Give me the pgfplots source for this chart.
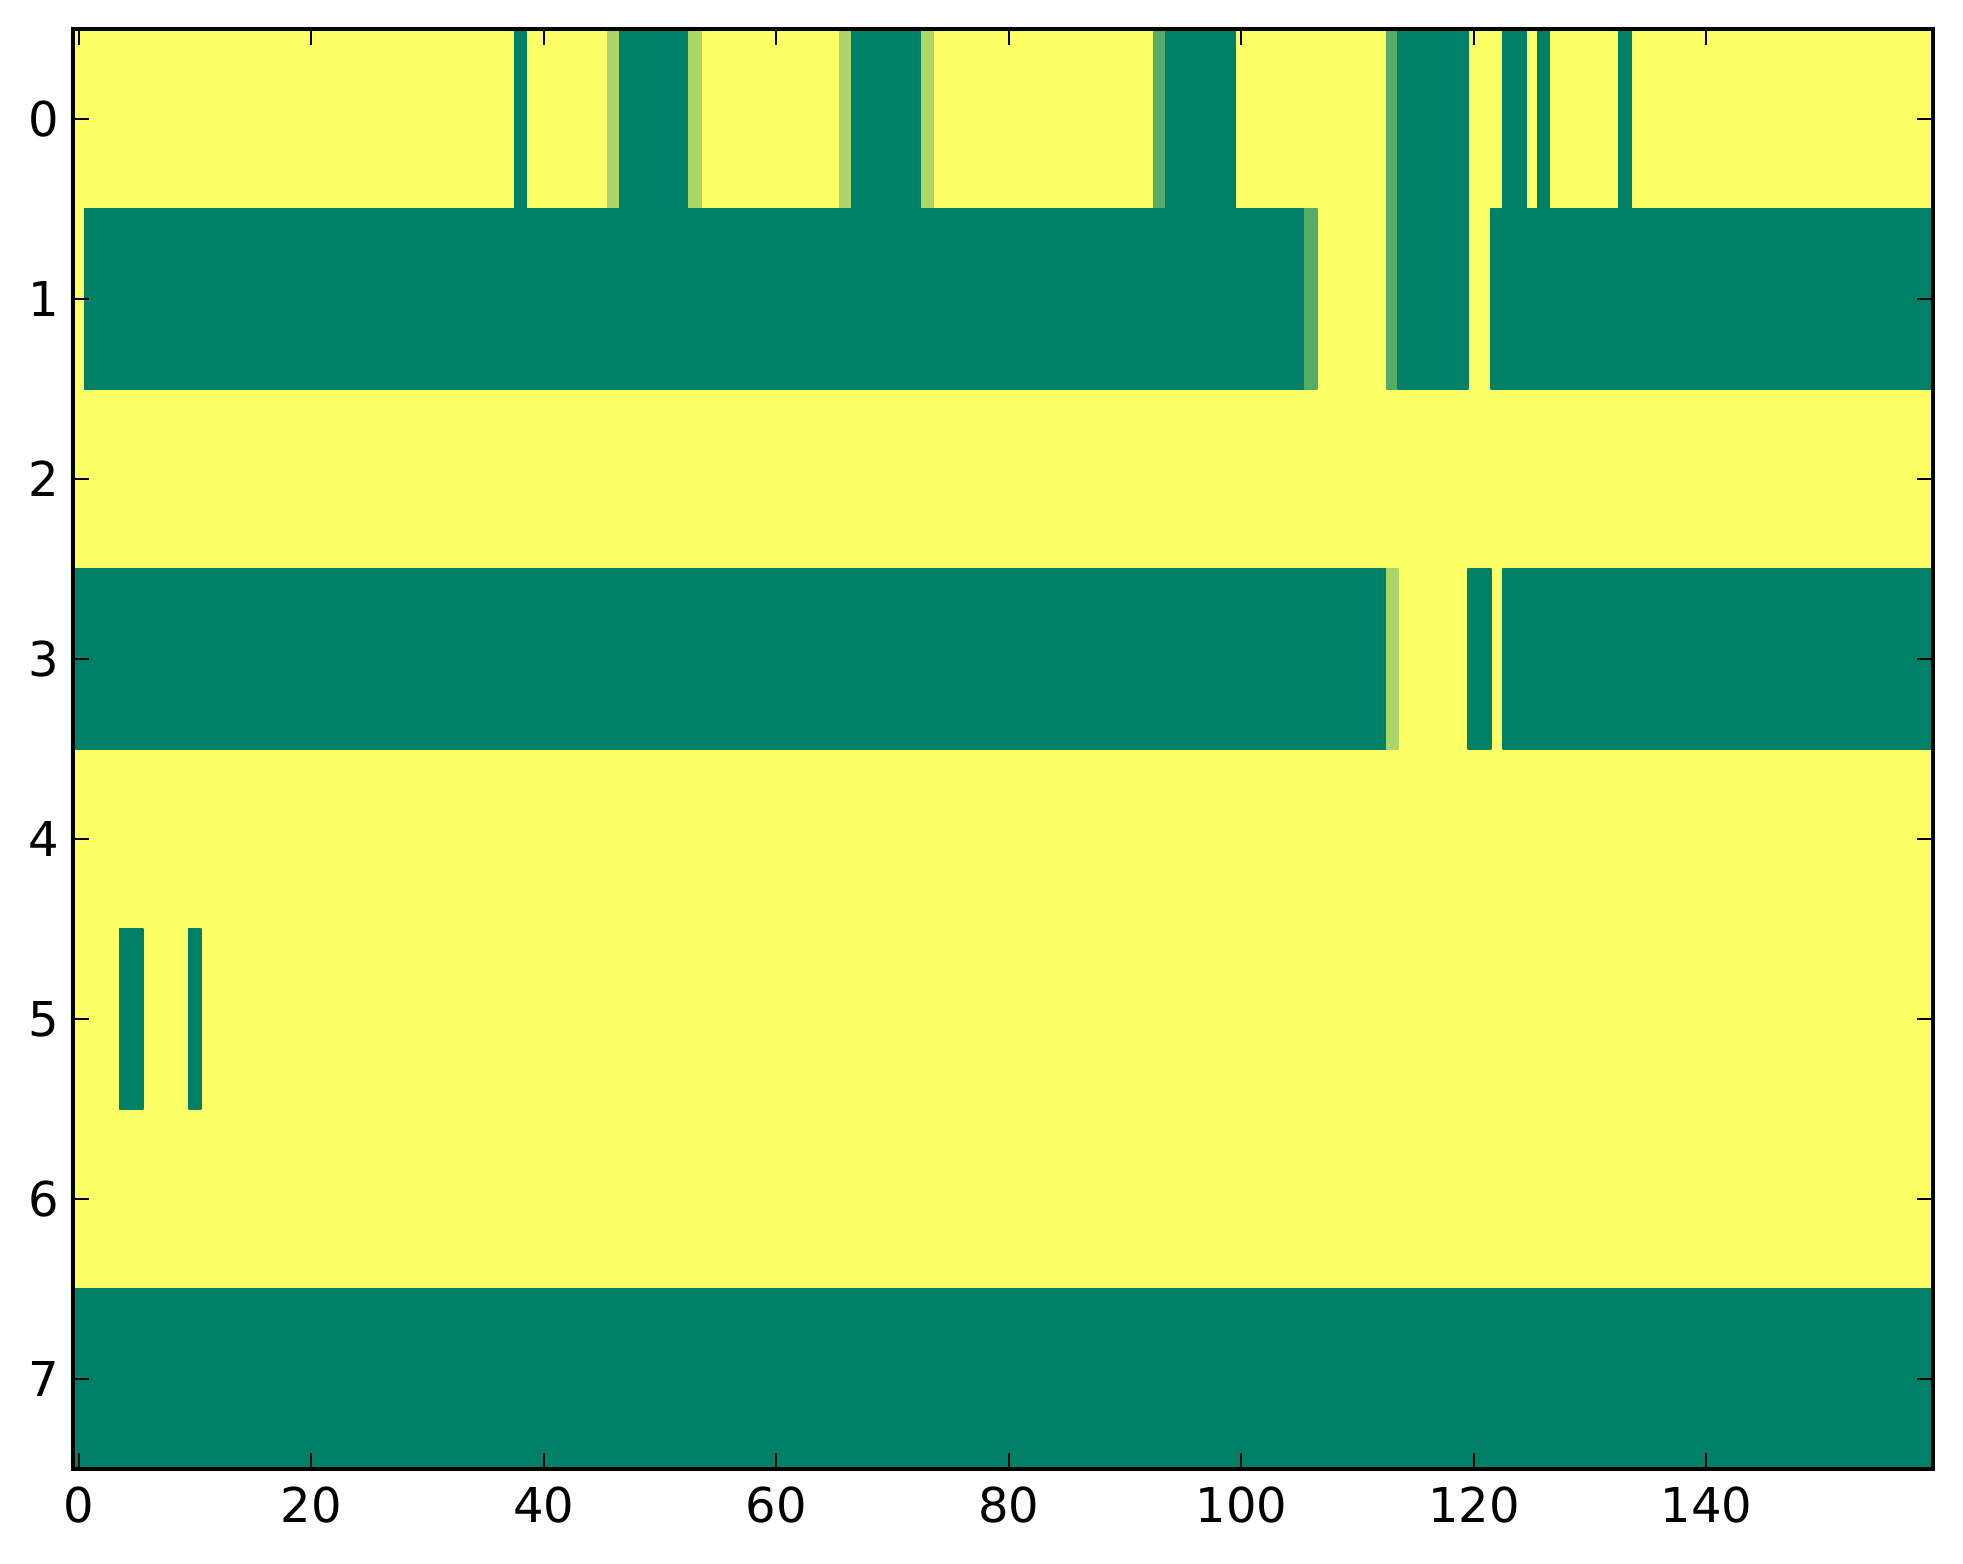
\documentclass[border=0pt]{standalone}
\usepackage{fontspec}
\setmainfont{DejaVu Sans}
\usepackage{pgfplots}
\pgfplotsset{compat=1.18}
\usepgfplotslibrary{patchplots}
\begin{document}
\begin{tikzpicture}
\begin{axis}[
  scale only axis,
  width=465pt, height=360pt,
  xmin=-0.5, xmax=159.5, ymin=-0.5, ymax=7.5,
  y dir=reverse,
  xtick={0,20,...,140}, ytick={0,1,...,7},
  tick align=inside, tick pos=both,
  major tick length=4pt,
  axis line style={line width=1pt},
  every tick/.style={black, line width=0.5pt},
  tick label style={font=\fontsize{12}{14}\selectfont},
  xticklabel style={yshift=-1pt},
  /pgf/number format/assume math mode=true,
  axis on top,
  colormap={summer}{rgb255=(0,128,102) rgb255=(255,255,102)},
  point meta min=0, point meta max=1,
]
\addplot[patch, patch type=rectangle, shader=flat, point meta=explicit]
table[x=x, y=y, meta=c] {
x y c
-0.5 -0.5 1
159.5 -0.5 1
159.5 7.5 1
-0.5 7.5 1
37.5 -0.5 0
38.5 -0.5 0
38.5 0.5 0
37.5 0.5 0
45.5 -0.5 0.667
46.5 -0.5 0.667
46.5 0.5 0.667
45.5 0.5 0.667
46.5 -0.5 0
52.5 -0.5 0
52.5 0.5 0
46.5 0.5 0
52.5 -0.5 0.667
53.5 -0.5 0.667
53.5 0.5 0.667
52.5 0.5 0.667
65.5 -0.5 0.667
66.5 -0.5 0.667
66.5 0.5 0.667
65.5 0.5 0.667
66.5 -0.5 0
72.5 -0.5 0
72.5 0.5 0
66.5 0.5 0
72.5 -0.5 0.667
73.5 -0.5 0.667
73.5 0.5 0.667
72.5 0.5 0.667
92.5 -0.5 0.333
93.5 -0.5 0.333
93.5 0.5 0.333
92.5 0.5 0.333
93.5 -0.5 0
99.5 -0.5 0
99.5 0.5 0
93.5 0.5 0
112.5 -0.5 0.333
113.5 -0.5 0.333
113.5 0.5 0.333
112.5 0.5 0.333
113.5 -0.5 0
119.5 -0.5 0
119.5 0.5 0
113.5 0.5 0
122.5 -0.5 0
124.5 -0.5 0
124.5 0.5 0
122.5 0.5 0
125.5 -0.5 0
126.5 -0.5 0
126.5 0.5 0
125.5 0.5 0
132.5 -0.5 0
133.5 -0.5 0
133.5 0.5 0
132.5 0.5 0
0.5 0.5 0
105.5 0.5 0
105.5 1.5 0
0.5 1.5 0
105.5 0.5 0.333
106.5 0.5 0.333
106.5 1.5 0.333
105.5 1.5 0.333
112.5 0.5 0.333
113.5 0.5 0.333
113.5 1.5 0.333
112.5 1.5 0.333
113.5 0.5 0
119.5 0.5 0
119.5 1.5 0
113.5 1.5 0
121.5 0.5 0
159.5 0.5 0
159.5 1.5 0
121.5 1.5 0
-0.5 2.5 0
112.5 2.5 0
112.5 3.5 0
-0.5 3.5 0
112.5 2.5 0.667
113.5 2.5 0.667
113.5 3.5 0.667
112.5 3.5 0.667
119.5 2.5 0
121.5 2.5 0
121.5 3.5 0
119.5 3.5 0
122.5 2.5 0
159.5 2.5 0
159.5 3.5 0
122.5 3.5 0
3.5 4.5 0
5.5 4.5 0
5.5 5.5 0
3.5 5.5 0
9.5 4.5 0
10.5 4.5 0
10.5 5.5 0
9.5 5.5 0
-0.5 6.5 0
159.5 6.5 0
159.5 7.5 0
-0.5 7.5 0
};
\end{axis}
\pgfresetboundingbox
\path[use as bounding box] ([shift={(-18.25pt,-23.75pt)}]current axis.south west) rectangle ([shift={(7.5pt,7.25pt)}]current axis.north east);
\end{tikzpicture}
\end{document}
